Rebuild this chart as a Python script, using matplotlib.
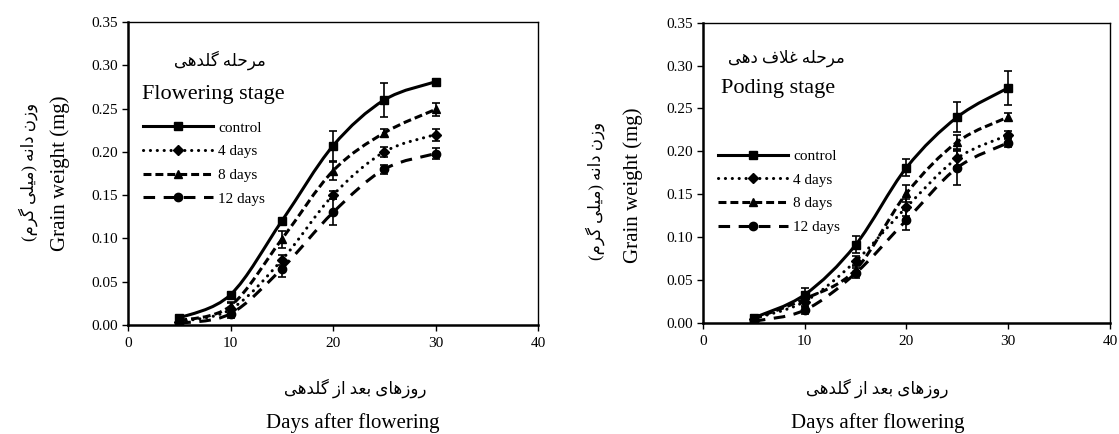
import matplotlib
matplotlib.use('Agg')
import matplotlib.pyplot as plt
from matplotlib.path import Path
from matplotlib.patches import PathPatch
from matplotlib.lines import Line2D

plt.rcParams['font.family'] = ['Liberation Serif', 'DejaVu Sans']

days = [5, 10, 15, 20, 25, 30]
series_names = ['control', '4 days', '8 days', '12 days']

# flowering stage (left)
flower_control = [0.008, 0.035, 0.120, 0.207, 0.260, 0.281]
flower_4d = [0.004, 0.018, 0.075, 0.150, 0.200, 0.220]
flower_8d = [0.005, 0.022, 0.099, 0.178, 0.222, 0.249]
flower_12d = [0.002, 0.013, 0.065, 0.130, 0.180, 0.198]
flower_control_err = [0.002, 0.003, 0.003, 0.017, 0.020, 0.003]
flower_4d_err = [0.002, 0.007, 0.006, 0.005, 0.006, 0.007]
flower_8d_err = [0.002, 0.005, 0.010, 0.010, 0.005, 0.008]
flower_12d_err = [0.002, 0.005, 0.009, 0.015, 0.005, 0.006]

# poding stage (right)
pod_control = [0.006, 0.033, 0.091, 0.181, 0.240, 0.274]
pod_4d = [0.005, 0.025, 0.072, 0.135, 0.192, 0.219]
pod_8d = [0.005, 0.028, 0.062, 0.151, 0.211, 0.240]
pod_12d = [0.002, 0.015, 0.058, 0.120, 0.181, 0.210]
pod_control_err = [0.003, 0.008, 0.010, 0.010, 0.017, 0.020]
pod_4d_err = [0.002, 0.005, 0.006, 0.010, 0.010, 0.005]
pod_8d_err = [0.002, 0.005, 0.006, 0.010, 0.008, 0.005]
pod_12d_err = [0.002, 0.004, 0.006, 0.012, 0.020, 0.005]

x_ticks = [0, 10, 20, 30, 40]
y_ticks = [0.00, 0.05, 0.10, 0.15, 0.20, 0.25, 0.30, 0.35]

# persian letters -> (isolated, final, initial, medial)
FORMS = {
    '\u0627': ('\uFE8D', '\uFE8E', None, None),
    '\u0628': ('\uFE8F', '\uFE90', '\uFE91', '\uFE92'),
    '\u062D': ('\uFEA1', '\uFEA2', '\uFEA3', '\uFEA4'),
    '\u062F': ('\uFEA9', '\uFEAA', None, None),
    '\u0631': ('\uFEAD', '\uFEAE', None, None),
    '\u0632': ('\uFEAF', '\uFEB0', None, None),
    '\u0639': ('\uFEC9', '\uFECA', '\uFECB', '\uFECC'),
    '\u063A': ('\uFECD', '\uFECE', '\uFECF', '\uFED0'),
    '\u0641': ('\uFED1', '\uFED2', '\uFED3', '\uFED4'),
    '\u0644': ('\uFEDD', '\uFEDE', '\uFEDF', '\uFEE0'),
    '\u0645': ('\uFEE1', '\uFEE2', '\uFEE3', '\uFEE4'),
    '\u0646': ('\uFEE5', '\uFEE6', '\uFEE7', '\uFEE8'),
    '\u0647': ('\uFEE9', '\uFEEA', '\uFEEB', '\uFEEC'),
    '\u0648': ('\uFEED', '\uFEEE', None, None),
    '\u06CC': ('\uFBFC', '\uFBFD', '\uFBFE', '\uFBFF'),
    '\u06AF': ('\uFB92', '\uFB93', '\uFB94', '\uFB95'),
    '\uFEFB': ('\uFEFB', '\uFEFC', None, None),
}
MIRROR = {'(': ')', ')': '('}


def fa(s):
    # matplotlib has no arabic shaping: pick the joined forms and lay out right to left
    chars = list(s.replace('\u0644\u0627', '\uFEFB'))
    out = []
    for i, c in enumerate(chars):
        if c not in FORMS:
            out.append(MIRROR.get(c, c))
            continue
        prev = chars[i - 1] if i > 0 else None
        nxt = chars[i + 1] if i + 1 < len(chars) else None
        jp = prev in FORMS and FORMS[prev][2] is not None
        jn = FORMS[c][2] is not None and nxt in FORMS
        f = FORMS[c]
        if jp and jn:
            out.append(f[3])
        elif jp:
            out.append(f[1])
        elif jn:
            out.append(f[2])
        else:
            out.append(f[0])
    return ''.join(reversed(out))


def smooth_path(x, y):
    # bezier through the points, like excel's smoothed line
    pts = list(zip(x, y))
    verts = [pts[0]]
    codes = [Path.MOVETO]
    n = len(pts)
    for i in range(n - 1):
        p0 = pts[max(i - 1, 0)]
        p1 = pts[i]
        p2 = pts[i + 1]
        p3 = pts[min(i + 2, n - 1)]
        c1 = (p1[0] + (p2[0] - p0[0]) / 6, p1[1] + (p2[1] - p0[1]) / 6)
        c2 = (p2[0] - (p3[0] - p1[0]) / 6, p2[1] - (p3[1] - p1[1]) / 6)
        verts += [c1, c2, p2]
        codes += [Path.CURVE4] * 3
    return Path(verts, codes)


styles = [
    dict(ls='-', marker='s', ms=6),
    dict(ls=(0, (0.05, 2.2)), marker='D', ms=5),
    dict(ls=(0, (2.6, 1.3)), marker='^', ms=6),
    dict(ls=(0, (3.8, 2.8)), marker='o', ms=6),
]


def draw_panel(ax, values, errors, stage_fa, stage_en, fa_pos, en_pos, leg_pos):
    for v, e, st in zip(values, errors, styles):
        patch = PathPatch(smooth_path(days, v), facecolor='none', edgecolor='black',
                          lw=2.2, linestyle=st['ls'], capstyle='round' if st['marker'] == 'D' else 'butt',
                          zorder=2)
        ax.add_patch(patch)
        ax.errorbar(days, v, yerr=e, fmt='none', ecolor='black', elinewidth=1.2,
                    capsize=3, capthick=1.2, zorder=3)
        ax.plot(days, v, ls='none', marker=st['marker'], ms=st['ms'], color='black', zorder=4)

    handles = [Line2D([], [], color='black', lw=2.2, ls=st['ls'], marker=st['marker'],
                      ms=st['ms'], dash_capstyle='round' if st['marker'] == 'D' else 'butt')
               for st in styles]
    ax.legend(handles, series_names, loc='upper left', bbox_to_anchor=leg_pos,
              frameon=False, fontsize=11, handlelength=4.6, handletextpad=0.3,
              labelspacing=0.65, borderpad=0, borderaxespad=0, numpoints=1)

    ax.text(fa_pos[0], fa_pos[1], fa(stage_fa), transform=ax.transAxes, ha='center',
            va='center', fontsize=12)
    ax.text(en_pos[0], en_pos[1], stage_en, transform=ax.transAxes, ha='left',
            va='center', fontsize=16)

    ax.set_xlim(0, 40)
    ax.set_ylim(0, 0.35)
    ax.set_xticks(x_ticks)
    ax.set_yticks(y_ticks)
    ax.set_yticklabels(['%.2f' % t for t in y_ticks])
    ax.tick_params(direction='out', length=4.5, width=1, labelsize=11, pad=3)
    ax.tick_params(axis='x', pad=4)
    ax.spines['left'].set_linewidth(1.8)
    ax.spines['bottom'].set_linewidth(1.8)
    ax.spines['top'].set_linewidth(1.0)
    ax.spines['right'].set_linewidth(1.0)


fig = plt.figure(figsize=(11.19, 4.34), dpi=100)
ax1 = fig.add_axes([0.1144, 0.2512, 0.3664, 0.698])
ax2 = fig.add_axes([0.6282, 0.2558, 0.3637, 0.692])

draw_panel(ax1, [flower_control, flower_4d, flower_8d, flower_12d],
           [flower_control_err, flower_4d_err, flower_8d_err, flower_12d_err],
           'مرحله گلدهی', 'Flowering stage', (0.224, 0.875), (0.033, 0.762), (0.037, 0.673))
draw_panel(ax2, [pod_control, pod_4d, pod_8d, pod_12d],
           [pod_control_err, pod_4d_err, pod_8d_err, pod_12d_err],
           'مرحله غلاف دهی', 'Poding stage', (0.204, 0.880), (0.045, 0.781), (0.037, 0.578))

ylab_fa = fa('وزن دانه (میلی گرم)')
fig.text(0.025, 0.604, ylab_fa, rotation=90, ha='center', va='center', fontsize=12)
fig.text(0.0536, 0.601, 'Grain weight (mg)', rotation=90, ha='center', va='center', fontsize=15)
fig.text(0.532, 0.56, ylab_fa, rotation=90, ha='center', va='center', fontsize=12)
fig.text(0.566, 0.574, 'Grain weight (mg)', rotation=90, ha='center', va='center', fontsize=15)

xlab_fa = fa('روزهای بعد از گلدهی')
fig.text(355 / 1119, 1 - 388 / 434, xlab_fa, ha='center', va='center', fontsize=12)
fig.text(353 / 1119, 1 - 423 / 434, 'Days after flowering', ha='center', va='center', fontsize=15)
fig.text(877 / 1119, 1 - 388 / 434, xlab_fa, ha='center', va='center', fontsize=12)
fig.text(878 / 1119, 1 - 423 / 434, 'Days after flowering', ha='center', va='center', fontsize=15)

fig.savefig('out.png', dpi=100, facecolor='white')
